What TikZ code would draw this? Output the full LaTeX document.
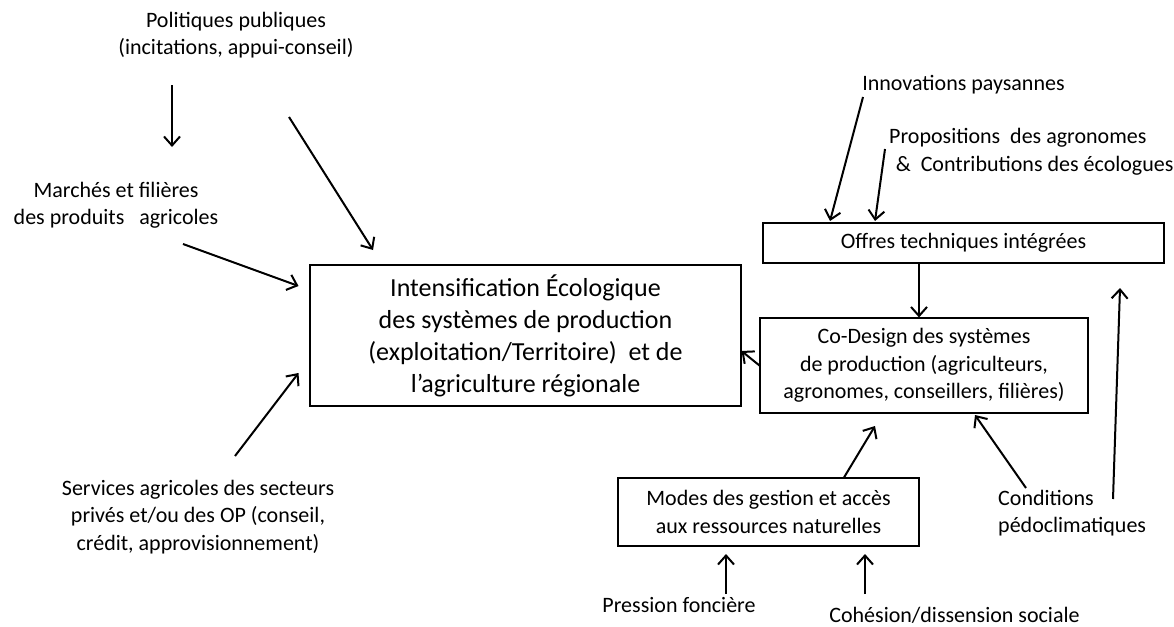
\documentclass[tikz,border=0pt]{standalone}
\usepackage{fontspec}
\setmainfont{Carlito}
\usetikzlibrary{arrows.meta}
\tikzset{
  >={Straight Barb[length=9pt,width=16pt]},
  fleche/.style={->,line width=2pt},
  boite/.style={draw,line width=1.1pt,align=center,inner sep=0pt,
    font=\fontsize{22}{27.5}\selectfont},
  texte/.style={align=center,inner sep=0pt,font=\fontsize{22}{27.5}\selectfont}
}
\begin{document}
\begin{tikzpicture}[x=1pt,y=-1pt]
    \useasboundingbox (0,0) rectangle (1174,626);
    % boites
    \node [boite,minimum width=431pt,minimum height=141pt,
      font=\fontsize{26}{32}\selectfont] (intens) at (525.5,335.5)
      {Intensification Écologique\\des systèmes de production\\(exploitation/Territoire)\ \ et de\\l’agriculture régionale};
    \node [boite,minimum width=401pt,minimum height=40pt] (offres) at (963.5,243) {Offres techniques intégrées};
    \node [boite,minimum width=328pt,minimum height=95pt] (codesign) at (924,365.5)
      {Co-Design des systèmes\\de production (agriculteurs,\\agronomes, conseillers, filières)};
    \node [boite,minimum width=301pt,minimum height=68pt] (modes) at (768.5,512)
      {Modes des gestion et accès\\aux ressources naturelles};
    % textes
    \node [texte] (politiques) at (236,35) {Politiques publiques\\(incitations, appui-conseil)};
    \node [texte] (marches) at (116,205.5) {Marchés et filières\\des produits\ \ \ agricoles};
    \node [texte] (services) at (198,517) {Services agricoles des secteurs\\privés et/ou des OP (conseil,\\crédit, approvisionnement)};
    \node [texte] (innov) at (963.5,85) {Innovations paysannes};
    \node [texte,align=left,anchor=west] (propos) at (889,152) {Propositions\ \ des agronomes\\\hspace{0.3em}\&\ \ Contributions des écologues};
    \node [texte,align=left,anchor=west] (condit) at (998,513) {Conditions\\pédoclimatiques};
    \node [texte] (pression) at (679,605) {Pression foncière};
    \node [texte] (cohesion) at (954.5,615) {Cohésion/dissension sociale};
    % extremites libres
    \coordinate (p1) at (172,85);  \coordinate (p2) at (172,147);
    \coordinate (p3) at (289,117); \coordinate (p4) at (373,250);
    \coordinate (m1) at (183,244); \coordinate (m2) at (298.5,286);
    \coordinate (s1) at (235,456); \coordinate (s2) at (298.5,373);
    \coordinate (i1) at (863,97);  \coordinate (i2) at (830,221);
    \coordinate (a1) at (885,149); \coordinate (a2) at (875,221);
    \coordinate (g1) at (875,426);
    \coordinate (c1) at (1026,488); \coordinate (c2) at (975,415);
    \coordinate (l1) at (1113,499); \coordinate (l2) at (1120,288);
    \coordinate (f1) at (726,594); \coordinate (f2) at (726,554);
    \coordinate (h1) at (865,594); \coordinate (h2) at (865,554);
    % fleches
    \draw [fleche] (p1) -- (p2);
    \draw [fleche] (p3) -- (p4);
    \draw [fleche] (m1) -- (m2);
    \draw [fleche] (s1) -- (s2);
    \draw [fleche] (i1) -- (i2);
    \draw [fleche] (a1) -- (a2);
    \draw [fleche] (offres.south -| 919,0) -- (codesign.north -| 919,0);
    \draw [fleche] (codesign.west) -- (intens.east |- 0,351);
    \draw [fleche] (modes.north -| 844,0) -- (g1);
    \draw [fleche] (c1) -- (c2);
    \draw [fleche] (l1) -- (l2);
    \draw [fleche] (f1) -- (f2);
    \draw [fleche] (h1) -- (h2);
  \end{tikzpicture}
\end{document}
